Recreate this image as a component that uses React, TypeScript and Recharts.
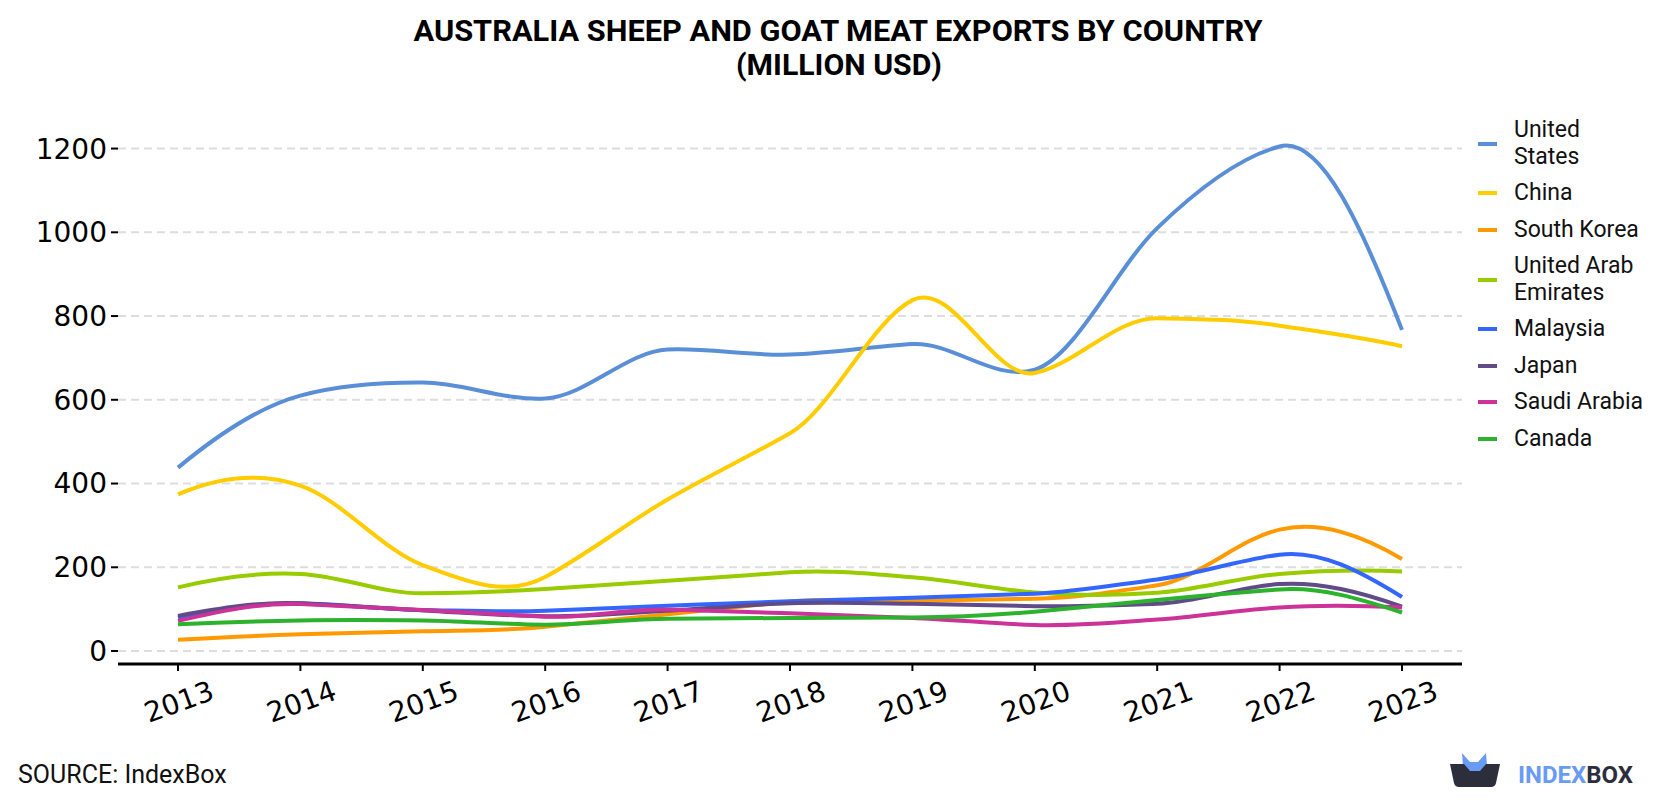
import { CartesianGrid, Line, LineChart, XAxis, YAxis } from 'recharts'

// values in million USD
const years = [2013, 2014, 2015, 2016, 2017, 2018, 2019, 2020, 2021, 2022, 2023]
const unitedStates = [438, 610, 641, 603, 720, 708, 733, 672, 1010, 1205, 767]
const china = [374, 395, 205, 177, 362, 520, 838, 664, 795, 777, 728]
const southKorea = [27, 40, 47, 58, 88, 118, 120, 125, 157, 290, 220]
const uae = [152, 184, 138, 148, 168, 188, 176, 140, 139, 184, 190]
const malaysia = [80, 114, 98, 96, 108, 119, 127, 137, 171, 230, 129]
const japan = [84, 114, 97, 83, 96, 114, 113, 107, 113, 160, 106]
const saudiArabia = [72, 112, 98, 82, 99, 90, 79, 62, 75, 104, 104]
const canada = [64, 73, 73, 63, 77, 79, 80, 94, 122, 147, 92]
const yTicks = [0, 200, 400, 600, 800, 1000, 1200]

const series = [
  { key: 'us', name: 'United States', color: '#5a8fd7', values: unitedStates },
  { key: 'cn', name: 'China', color: '#ffcc00', values: china },
  { key: 'kr', name: 'South Korea', color: '#ff9900', values: southKorea },
  { key: 'ae', name: 'United Arab Emirates', color: '#99cc00', values: uae },
  { key: 'my', name: 'Malaysia', color: '#3366ff', values: malaysia },
  { key: 'jp', name: 'Japan', color: '#604a87', values: japan },
  { key: 'sa', name: 'Saudi Arabia', color: '#cc3399', values: saudiArabia },
  { key: 'ca', name: 'Canada', color: '#2db22d', values: canada },
]

const rows = years.map((year, i) => {
  const row: Record<string, number> = { year }
  series.forEach((s) => (row[s.key] = s.values[i]))
  return row
})

// Akima interpolation (as scipy's Akima1DInterpolator does it), handed to
// recharts as a d3-style curve factory working on the pixel points.
function akima(context: any) {
  let px: number[] = []
  let py: number[] = []
  return {
    areaStart() {},
    areaEnd() {},
    lineStart() {
      px = []
      py = []
    },
    point(x: number, y: number) {
      px.push(+x)
      py.push(+y)
    },
    lineEnd() {
      const n = px.length
      if (!n) return
      context.moveTo(px[0], py[0])
      if (n < 3) {
        for (let i = 1; i < n; i++) context.lineTo(px[i], py[i])
        return
      }
      // slopes with two extrapolated ones on each side
      const m = new Array(n + 3).fill(0)
      for (let k = 0; k < n - 1; k++) m[k + 2] = (py[k + 1] - py[k]) / (px[k + 1] - px[k])
      m[1] = 2 * m[2] - m[3]
      m[0] = 2 * m[1] - m[2]
      m[n + 1] = 2 * m[n] - m[n - 1]
      m[n + 2] = 2 * m[n + 1] - m[n]
      const t = px.map((_, i) => {
        const f1 = Math.abs(m[i + 3] - m[i + 2])
        const f2 = Math.abs(m[i + 1] - m[i])
        if (f1 + f2 < 1e-9) return (m[i + 1] + m[i + 2]) / 2
        return (f1 * m[i + 1] + f2 * m[i + 2]) / (f1 + f2)
      })
      for (let i = 0; i < n - 1; i++) {
        const h = px[i + 1] - px[i]
        context.bezierCurveTo(
          px[i] + h / 3,
          py[i] + (t[i] * h) / 3,
          px[i + 1] - h / 3,
          py[i + 1] - (t[i + 1] * h) / 3,
          px[i + 1],
          py[i + 1],
        )
      }
    },
  }
}

// legend labels wrap like the original: long names break at a space
function wrapName(name: string): string[] {
  if (name.length <= 12) return [name]
  const cut = name.lastIndexOf(' ', 12)
  return [name.slice(0, cut), name.slice(cut + 1)]
}

const YearTick = ({ x, y, payload }: any) => (
  <g transform={`translate(${x + 1},${y + 29})`}>
    <text
      textAnchor="middle"
      dominantBaseline="central"
      transform="rotate(-20)"
      fontFamily="DejaVu Sans"
      fontSize={28}
      fill="#000"
    >
      {payload.value}
    </text>
  </g>
)

function Legend() {
  return (
    <div
      style={{
        position: 'absolute',
        left: 1478,
        top: 117,
        display: 'flex',
        flexDirection: 'column',
        gap: 10,
        fontFamily: 'Roboto',
        fontSize: 23,
        lineHeight: '26.5px',
        color: '#111',
      }}
    >
      {series.map((s) => (
        <div key={s.key} style={{ display: 'flex', alignItems: 'center' }}>
          <div style={{ width: 19, height: 4, background: s.color, marginRight: 17 }} />
          <div>
            {wrapName(s.name).map((line) => (
              <div key={line}>{line}</div>
            ))}
          </div>
        </div>
      ))}
    </div>
  )
}

export default function App() {
  return (
    <div style={{ position: 'absolute', left: 0, top: 0, width: 1680, height: 800, background: '#fff' }}>
      <svg width={1680} height={800} style={{ position: 'absolute', left: 0, top: 0 }}>
        <g fontFamily="Roboto" fontWeight="bold" fill="#000" textAnchor="middle">
          <text x={838} y={41} fontSize={30} textLength={849} lengthAdjust="spacingAndGlyphs">
            AUSTRALIA SHEEP AND GOAT MEAT EXPORTS BY COUNTRY
          </text>
          <text x={839} y={75} fontSize={30} textLength={206} lengthAdjust="spacingAndGlyphs">
            (MILLION USD)
          </text>
        </g>
        <text x={18} y={783} fontFamily="Roboto" fontSize={25} fill="#111">
          SOURCE: IndexBox
        </text>
        <g>
          <path d="M1462 753 L1470 762 L1478 762 L1486 753 L1487 766 L1463 766 Z" fill="#6a9bf4" />
          <path
            d="M1450 764 L1500 764 L1496 783 Q1495 787 1491 787 L1459 787 Q1455 787 1454 783 Z"
            fill="#2c2e3b"
          />
          <path d="M1464 764 L1486 764 L1480 771 L1470 771 Z" fill="#6a9bf4" />
          <text x={1518} y={783} fontFamily="Roboto" fontWeight="bold" fontSize={23} textLength={115} lengthAdjust="spacingAndGlyphs">
            <tspan fill="#6a9bf4">INDEX</tspan>
            <tspan fill="#2c2e3b">BOX</tspan>
          </text>
        </g>
      </svg>
      <div style={{ position: 'absolute', left: 0, top: 0 }}>
        <LineChart width={1680} height={800} data={rows} margin={{ top: 136, right: 218, bottom: 0, left: 0 }}>
          <CartesianGrid
            vertical={false}
            horizontalValues={yTicks}
            stroke="#dddddd"
            strokeWidth={2}
            strokeDasharray="8 5"
          />
          <XAxis
            dataKey="year"
            type="number"
            domain={[2013, 2023]}
            ticks={years}
            interval={0}
            padding={{ left: 60, right: 60 }}
            height={136}
            tickSize={7}
            axisLine={{ stroke: '#000', strokeWidth: 3 }}
            tickLine={{ stroke: '#000', strokeWidth: 2 }}
            tick={<YearTick />}
          />
          <YAxis
            type="number"
            domain={[-31, 1230]}
            ticks={yTicks}
            interval={0}
            width={118}
            axisLine={false}
            tickSize={7}
            tickMargin={4}
            tickLine={{ stroke: '#000', strokeWidth: 2 }}
            tick={{ fill: '#000', fontSize: 28, fontFamily: 'DejaVu Sans' }}
          />
          {series.map((s) => (
            <Line
              key={s.key}
              dataKey={s.key}
              name={s.name}
              type={akima as any}
              stroke={s.color}
              strokeWidth={4}
              dot={false}
              activeDot={false}
              isAnimationActive={false}
            />
          ))}
        </LineChart>
      </div>
      <Legend />
    </div>
  )
}
